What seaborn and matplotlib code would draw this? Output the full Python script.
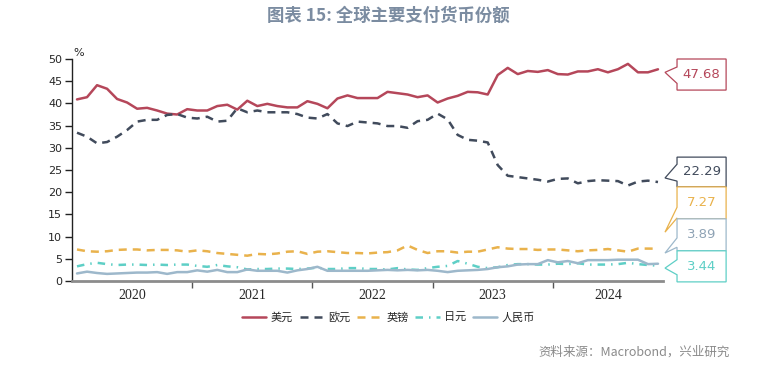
import numpy as np
import pandas as pd
import matplotlib
matplotlib.use("Agg")
import matplotlib.pyplot as plt
import seaborn as sns
from matplotlib.patches import Polygon
from matplotlib.lines import Line2D

# 月度数据: 2020-01 至 2024-11
years = ["2020", "2021", "2022", "2023", "2024"]

usd = [40.9, 41.4, 44.1, 43.3, 41.0, 40.2, 38.8, 39.0, 38.4, 37.7,
       37.5, 38.7, 38.4, 38.4, 39.4, 39.7, 38.6, 40.6, 39.4, 39.9,
       39.4, 39.1, 39.1, 40.5, 39.9, 38.9, 41.1, 41.8, 41.2, 41.2,
       41.2, 42.6, 42.3, 42.0, 41.4, 41.8, 40.2, 41.1, 41.7, 42.6,
       42.5, 42.0, 46.4, 48.0, 46.6, 47.3, 47.1, 47.5, 46.6, 46.5,
       47.2, 47.2, 47.7, 47.0, 47.7, 48.9, 47.0, 47.0, 47.68]
eur = [33.4, 32.5, 31.0, 31.3, 32.5, 34.0, 35.9, 36.3, 36.3, 37.4,
       37.6, 36.8, 36.6, 37.0, 35.9, 36.1, 38.9, 38.0, 38.4, 38.0,
       38.0, 38.0, 37.6, 36.8, 36.6, 37.6, 35.5, 34.9, 35.9, 35.7,
       35.5, 34.9, 34.9, 34.5, 36.0, 36.3, 37.7, 36.4, 32.9, 31.8,
       31.6, 31.2, 26.1, 23.7, 23.4, 23.1, 22.8, 22.4, 23.0, 23.1,
       22.0, 22.5, 22.7, 22.6, 22.5, 21.5, 22.4, 22.6, 22.29]
gbp = [7.1, 6.7, 6.6, 6.7, 7.0, 7.1, 7.1, 6.9, 7.0, 7.0,
       6.9, 6.6, 6.9, 6.7, 6.3, 6.1, 5.9, 5.7, 6.1, 6.0,
       6.2, 6.6, 6.7, 6.1, 6.6, 6.7, 6.5, 6.3, 6.3, 6.2,
       6.4, 6.5, 6.9, 8.0, 7.0, 6.3, 6.7, 6.7, 6.4, 6.6,
       6.6, 7.1, 7.6, 7.3, 7.2, 7.2, 7.0, 7.1, 7.1, 6.9,
       6.7, 6.9, 7.0, 7.2, 6.9, 6.6, 7.3, 7.3, 7.27]
jpy = [3.3, 3.8, 4.1, 3.8, 3.6, 3.7, 3.7, 3.6, 3.7, 3.6,
       3.7, 3.7, 3.4, 3.2, 3.6, 3.3, 3.1, 2.6, 2.7, 2.7,
       2.8, 2.8, 2.7, 2.8, 3.0, 2.7, 2.7, 2.9, 2.9, 2.7,
       2.7, 2.6, 2.9, 2.6, 2.5, 2.9, 3.2, 3.4, 4.5, 3.9,
       3.2, 2.9, 3.1, 3.6, 3.8, 3.8, 3.7, 3.7, 3.9, 3.8,
       4.0, 3.7, 3.7, 3.7, 3.8, 4.1, 3.8, 3.6, 3.44]
cny = [1.7, 2.1, 1.8, 1.6, 1.7, 1.8, 1.9, 1.9, 2.0, 1.6,
       2.0, 2.0, 2.4, 2.1, 2.5, 2.0, 2.0, 2.6, 2.3, 2.3,
       2.3, 1.9, 2.4, 2.7, 3.2, 2.3, 2.3, 2.3, 2.3, 2.3,
       2.4, 2.5, 2.4, 2.5, 2.4, 2.5, 2.3, 2.0, 2.3, 2.4,
       2.5, 2.7, 3.1, 3.3, 3.7, 3.8, 3.8, 4.7, 4.2, 4.5,
       4.0, 4.7, 4.7, 4.7, 4.8, 4.8, 4.8, 3.8, 3.89]

names = ["美元", "欧元", "英镑", "日元", "人民币"]
series = [usd, eur, gbp, jpy, cny]
colors = ["#B5475A", "#414B5C", "#E9B24C", "#5ECFC6", "#9DB8CB"]
dash_styles = ["", (3.2, 2.4), (3.2, 2.4), (3.0, 2.4, 0.6, 2.4), ""]

n = len(usd)
x = np.arange(n) + 0.5
df = pd.concat(
    [pd.DataFrame({"x": x, "value": vals, "currency": name})
     for name, vals in zip(names, series)],
    ignore_index=True,
)

sns.set_style("white")
plt.rcParams["font.family"] = ["Noto Sans CJK SC", "DejaVu Sans"]

fig = plt.figure(figsize=(7.77, 3.66), dpi=100)
ax = fig.add_axes([72 / 777, 1 - 281 / 366, (663 - 72) / 777, (281 - 59) / 366])

sns.lineplot(
    data=df, x="x", y="value", hue="currency", style="currency",
    hue_order=names, style_order=names,
    palette=dict(zip(names, colors)), dashes=dict(zip(names, dash_styles)),
    linewidth=1.8, legend=False, ax=ax,
)

ax.set_xlim(0, n)
ax.set_ylim(0, 50)
ax.set_yticks(np.arange(0, 51, 5))
ax.set_xlabel("")
ax.set_ylabel("")

# 年份分隔刻度, 标签居中
ax.set_xticks([12, 24, 36, 48])
ax.set_xticklabels([])
ax.set_xticks([(12 * k + min(12 * k + 12, n)) / 2 for k in range(len(years))], minor=True)
ax.set_xticklabels(years, minor=True, family="Liberation Serif", fontsize=10)
ax.tick_params(axis="x", which="major", length=5, width=1, color="#555555", direction="out", bottom=True)
ax.tick_params(axis="x", which="minor", length=0, pad=6)
ax.tick_params(axis="y", length=5, width=1, color="#222222", direction="out", left=True,
               labelsize=8, pad=2)
for lab in ax.get_yticklabels():
    lab.set_family(["DejaVu Sans"])

for s in ["top", "right"]:
    ax.spines[s].set_visible(False)
ax.spines["left"].set_color("#222222")
ax.spines["left"].set_linewidth(1.0)
ax.spines["bottom"].set_color("#8c8c8c")
ax.spines["bottom"].set_linewidth(2.0)

ax.text(0.1, 50.3, "%", fontsize=8, family="DejaVu Sans", va="bottom", ha="left")

# 右侧末值标注框 (位置为数据坐标)
boxes = [
    (43.0, 50.0, 47.0, 48.2, 44.5),
    (21.2, 27.9, 23.2, 26.3, 22.5),
    (14.0, 21.2, 11.0, 16.6, 14.2),
    (6.8, 14.0, 6.3, 9.7, 7.6),
    (-0.2, 6.8, 2.9, 4.8, 1.4),
]
order = [0, 1, 2, 4, 3]
x0, x1, xt = 60.4, 65.3, 59.2
for (b, t, tip, n_top, n_bot), k in zip(boxes, order):
    col = colors[k]
    val = series[k][-1]
    pts = [(x0, b), (x1, b), (x1, t), (x0, t), (x0, n_top), (xt, tip), (x0, n_bot)]
    ax.add_patch(Polygon(pts, closed=True, facecolor="white", edgecolor=col,
                         linewidth=0.9, clip_on=False, zorder=5))
    tcol = "#8FA3B5" if k == 4 else col
    ax.text((x0 + x1) / 2, (b + t) / 2, f"{val:.2f}", color=tcol, fontsize=9.5,
            ha="center", va="center", family="DejaVu Sans", clip_on=False, zorder=6)

handles = [Line2D([0], [0], color=c, lw=1.8,
                  linestyle=(0, d) if d else "-")
           for c, d in zip(colors, dash_styles)]
fig.legend(handles, names, loc="center", bbox_to_anchor=(0.5, 1 - 317 / 366),
           ncol=5, frameon=False, fontsize=8, handlelength=2.2, columnspacing=0.6,
           handletextpad=0.4)

fig.text(0.5, 1 - 16 / 366, "图表 15: 全球主要支付货币份额", ha="center", va="center",
         fontsize=12.5, fontweight="bold", color="#7B8CA1")
fig.text(730 / 777, 1 - 352 / 366, "资料来源：Macrobond，兴业研究", ha="right", va="center",
         fontsize=9, color="#8a8a8a")

fig.savefig("out.png", dpi=100)
